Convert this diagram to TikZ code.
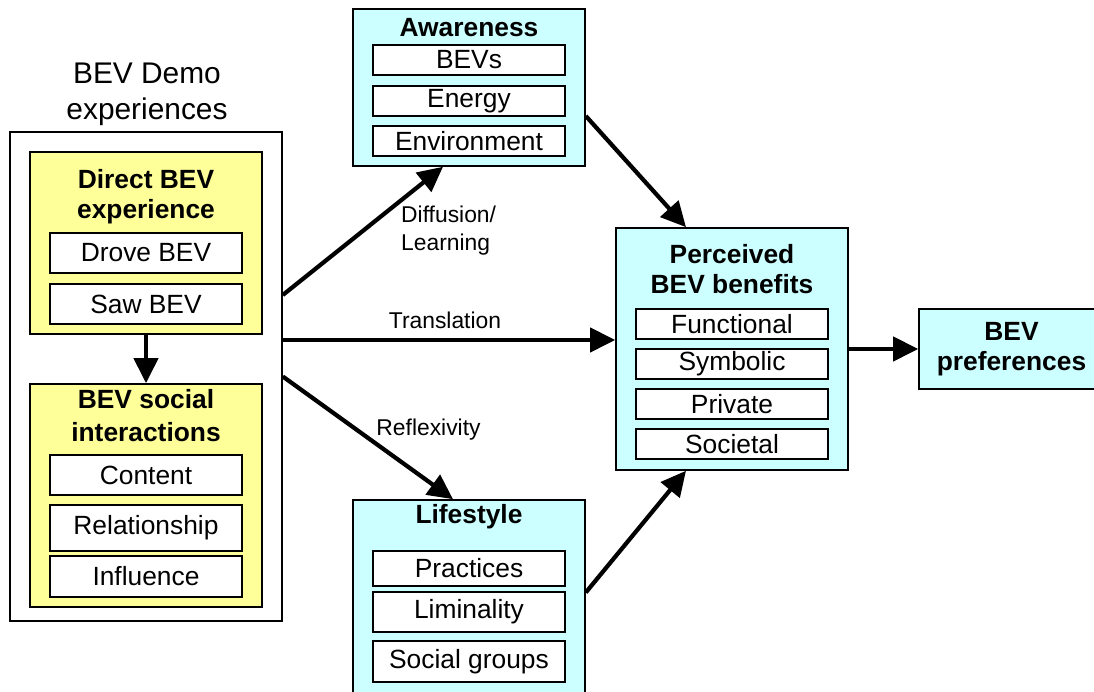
\documentclass[tikz,border=0pt]{standalone}
\usepackage{fontspec}
\setmainfont{Liberation Sans}
\usetikzlibrary{arrows.meta}
\definecolor{paleyellow}{RGB}{255,255,153}
\definecolor{palecyan}{RGB}{204,255,255}

\begin{document}
\begin{tikzpicture}[
	box/.style={draw, line width=0.9pt, minimum width=4.64cm, inner sep=0pt},
	item/.style={draw, fill=white, line width=0.9pt, minimum width=3.84cm, minimum height=#1, inner sep=0pt, font=\fontsize{15}{18}\selectfont},
	item/.default=0.8cm,
	head/.style={font=\fontsize{15}{17}\selectfont\bfseries, align=center},
	lbl/.style={font=\fontsize{13}{16}\selectfont, align=left},
	arr/.style={line width=2.4pt, -{Triangle[length=0.5cm,width=0.48cm]}}]
	\useasboundingbox (0,0) rectangle (21.88,13.84);
	
	\node[box, fill=white, minimum width=5.44cm, minimum height=9.78cm] (demo) at (2.92,6.31) {};
	\node[font=\fontsize{17}{20.5}\selectfont, align=center] (demotitle) at (2.94,11.96) {BEV Demo\\experiences};
	\node[box, fill=paleyellow, minimum height=3.64cm] (direct) at (2.92,8.98) {};
	\node[head] (directtitle) at (2.92,9.9) {Direct BEV\\experience};
	\node[item] (drove) at (2.92,8.78) {Drove BEV};
	\node[item] (saw) at (2.92,7.76) {Saw BEV};
	\node[box, fill=paleyellow, minimum height=4.46cm] (social) at (2.92,3.93) {};
	\node[head, font=\fontsize{15}{18.5}\selectfont\bfseries] (socialtitle) at (2.92,5.53) {BEV social\\interactions};
	\node[item] (content) at (2.92,4.34) {Content};
	\node[item=0.92cm] (relation) at (2.92,3.28) {Relationship};
	\node[item=0.82cm] (influence) at (2.92,2.31) {Influence};
	
	\node[box, fill=palecyan, minimum height=3.14cm] (aware) at (9.38,12.09) {};
	\node[head] (awaretitle) at (9.38,13.28) {Awareness};
	\node[item=0.6cm] (bevs) at (9.38,12.64) {BEVs};
	\node[item=0.6cm] (energy) at (9.38,11.82) {Energy};
	\node[item=0.6cm] (environ) at (9.38,11.02) {Environment};
	
	\node[box, fill=palecyan, minimum height=3.9cm] (life) at (9.38,1.89) {};
	\node[head] (lifetitle) at (9.38,3.5) {Lifestyle};
	\node[item=0.7cm] (practices) at (9.38,2.47) {Practices};
	\node[item] (liminal) at (9.38,1.6) {Liminality};
	\node[item=0.82cm] (groups) at (9.38,0.61) {Social groups};
	
	\node[box, fill=palecyan, minimum height=4.84cm] (perc) at (14.64,6.86) {};
	\node[head] (perctitle) at (14.64,8.46) {Perceived\\BEV benefits};
	\node[item=0.6cm] (functional) at (14.64,7.36) {Functional};
	\node[item=0.6cm] (symbolic) at (14.64,6.56) {Symbolic};
	\node[item=0.6cm] (private) at (14.64,5.76) {Private};
	\node[item=0.6cm] (societal) at (14.64,4.96) {Societal};
	
	\node[box, head, fill=palecyan, minimum width=3.7cm, minimum height=1.6cm] (pref) at (20.23,6.86) {BEV\\preferences};
	
	\coordinate (transl) at ([yshift=0.73cm]demo.east);
	\draw[arr] (direct.south) -- (social.north);
	\draw[arr] ([yshift=1.63cm]demo.east) -- ([xshift=-0.52cm]aware.south);
	\draw[arr] (transl) -- (transl -| perc.west);
	\draw[arr] (demo.east) -- ([xshift=-0.32cm]life.north);
	\draw[arr] ([yshift=-0.57cm]aware.east) -- ([xshift=-0.92cm]perc.north);
	\draw[arr] ([yshift=0.1cm]life.east) -- ([xshift=-0.92cm]perc.south);
	\draw[arr] (perc.east) -- (pref.west);
	
	\node[lbl, anchor=west] (difflbl) at (7.9,9.22) {Diffusion/\\Learning};
	\node[lbl] (translbl) at (8.9,7.44) {Translation};
	\node[lbl] (reflbl) at (8.57,5.24) {Reflexivity};
	
\end{tikzpicture}
\end{document}
